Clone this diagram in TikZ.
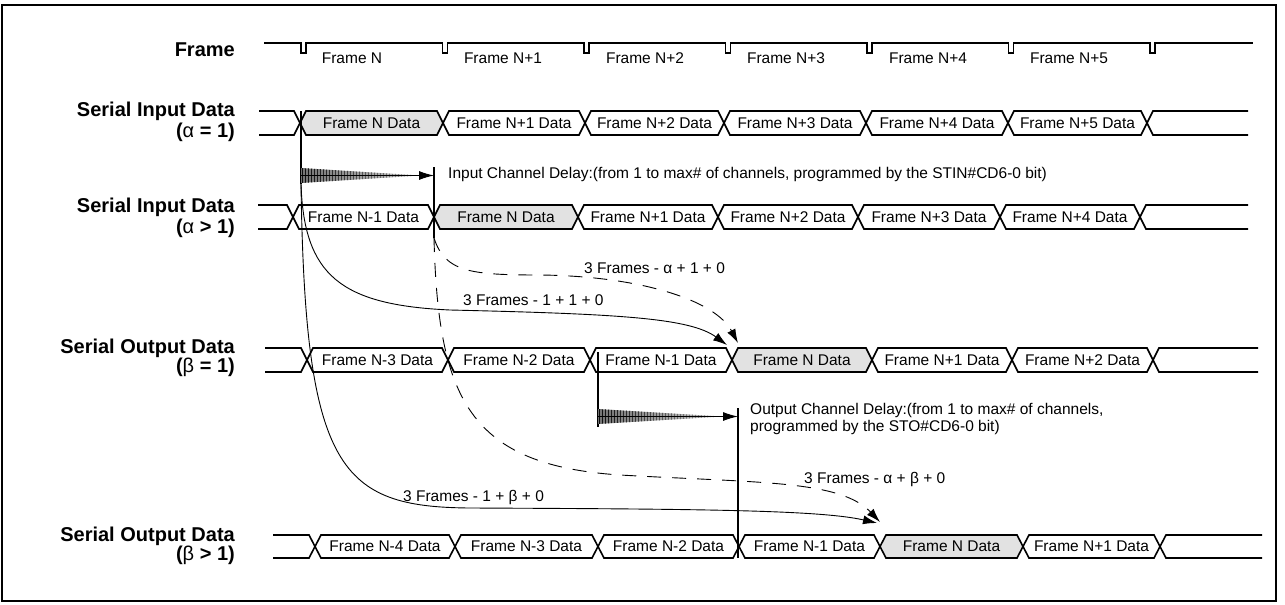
\documentclass[tikz,border=0pt]{standalone}
\usepackage{fontspec}
\setmainfont{Liberation Sans}
\usetikzlibrary{arrows.meta}
\definecolor{segfill}{RGB}{226,226,226}
\newcommand\hexseg[7]{%
  \pgfmathsetmacro\hsmid{(#3+#4)/2}%
  \filldraw[bus, fill=#5] (#1,\hsmid) -- (#1+6,#3) -- (#2-6,#3) -- (#2,\hsmid) -- (#2-6,#4) -- (#1+6,#4) -- cycle;
  \node[lbl] (#6) at ({(#1+#2)/2},\hsmid) {#7};
}
\newcommand\busends[6]{% start, first cross, last cross, end, top, bottom
  \pgfmathsetmacro\hsmid{(#5+#6)/2}%
  \draw[bus] (#1,#5) -- (#2-6,#5) -- (#2,\hsmid) -- (#2-6,#6) -- (#1,#6);
  \draw[bus] (#4,#5) -- (#3+6,#5) -- (#3,\hsmid) -- (#3+6,#6) -- (#4,#6);
}
\newcommand\hatchtri[3]{% x, top y, tip x
  \begin{scope}
    \clip (#1,#2) -- (#1,#2+15) -- (#3,#2+7.5) -- cycle;
    \shade[left color=black!55, right color=black!20] (#1-1,#2-2) rectangle (#3+1,#2+17);
    \foreach \i in {0,...,40} {
      \pgfmathsetmacro\hsdark{95-\i*1.4}
      \draw[line width=0.9pt, black!\hsdark] ({#1+1+\i*3},#2-5) -- ++(0,25);
    }
  \end{scope}
}
\begin{document}
\begin{tikzpicture}[x=1pt,y=-1pt,
  bus/.style={line width=1.6pt, line join=miter},
  lbl/.style={font=\fontsize{15.5}{17}\selectfont, inner sep=0pt},
  rowlbl/.style={font=\bfseries\fontsize{20}{23}\selectfont, anchor=east, inner sep=0pt},
  vline/.style={line width=1.6pt},
  curve/.style={line width=0.9pt, -{Latex[length=14pt,width=9pt]}},
  dcurve/.style={curve, dash pattern=on 14pt off 11pt},
  delay/.style={line width=1pt, -{Latex[length=15pt,width=9pt]}},
]
\useasboundingbox (0,0) rectangle (1285,605);
\draw[line width=2pt] (1.5,5) rectangle (1276,600.5);

% row labels
\node[rowlbl] (lframe) at (235,50) {Frame};
\node[rowlbl] (lin1) at (235,111) {Serial Input Data};
\node[rowlbl] (lin1b) at (235,132) {(\textmd{α} = 1)};
\node[rowlbl] (lin2) at (235,207) {Serial Input Data};
\node[rowlbl] (lin2b) at (235,228) {(\textmd{α} > 1)};
\node[rowlbl] (lout1) at (235,348) {Serial Output Data};
\node[rowlbl] (lout1b) at (235,367) {(\textmd{β} = 1)};
\node[rowlbl] (lout2) at (235,536) {Serial Output Data};
\node[rowlbl] (lout2b) at (235,555) {(\textmd{β} > 1)};

% frame waveform
\draw[bus] (264,43) \foreach \p in {301,442.5,584,725.5,867,1008.5,1150} { -- (\p,43) -- (\p,53) -- (\p+5,53) -- (\p+5,43) } -- (1253,43);
\node[lbl] (f0) at (352,58) {Frame N};
\node[lbl] (f1) at (503,58) {Frame N+1};
\node[lbl] (f2) at (645,58) {Frame N+2};
\node[lbl] (f3) at (786,58) {Frame N+3};
\node[lbl] (f4) at (928,58) {Frame N+4};
\node[lbl] (f5) at (1069,58) {Frame N+5};

% row 1
\busends{259}{300}{1147}{1248}{111}{135}
\hexseg{300}{443}{111}{135}{segfill}{a0}{Frame N Data}
\hexseg{443}{585}{111}{135}{white}{a1}{Frame N+1 Data}
\hexseg{585}{724}{111}{135}{white}{a2}{Frame N+2 Data}
\hexseg{724}{866}{111}{135}{white}{a3}{Frame N+3 Data}
\hexseg{866}{1008}{111}{135}{white}{a4}{Frame N+4 Data}
\hexseg{1008}{1147}{111}{135}{white}{a5}{Frame N+5 Data}

% row 2
\busends{258}{293}{1140}{1248}{205}{229}
\hexseg{293}{434}{205}{229}{white}{b0}{Frame N-1 Data}
\hexseg{434}{578}{205}{229}{segfill}{b1}{Frame N Data}
\hexseg{578}{718}{205}{229}{white}{b2}{Frame N+1 Data}
\hexseg{718}{858}{205}{229}{white}{b3}{Frame N+2 Data}
\hexseg{858}{1000}{205}{229}{white}{b4}{Frame N+3 Data}
\hexseg{1000}{1140}{205}{229}{white}{b5}{Frame N+4 Data}

% row 3
\busends{265}{307}{1153}{1258}{348}{372}
\hexseg{307}{448}{348}{372}{white}{c0}{Frame N-3 Data}
\hexseg{448}{590}{348}{372}{white}{c1}{Frame N-2 Data}
\hexseg{590}{732}{348}{372}{white}{c2}{Frame N-1 Data}
\hexseg{732}{872}{348}{372}{segfill}{c3}{Frame N Data}
\hexseg{872}{1012}{348}{372}{white}{c4}{Frame N+1 Data}
\hexseg{1012}{1153}{348}{372}{white}{c5}{Frame N+2 Data}

% row 4
\busends{273}{315}{1160}{1262}{535}{558}
\hexseg{315}{455}{535}{558}{white}{d0}{Frame N-4 Data}
\hexseg{455}{598}{535}{558}{white}{d1}{Frame N-3 Data}
\hexseg{598}{739}{535}{558}{white}{d2}{Frame N-2 Data}
\hexseg{739}{880}{535}{558}{white}{d3}{Frame N-1 Data}
\hexseg{880}{1023}{535}{558}{segfill}{d4}{Frame N Data}
\hexseg{1023}{1160}{535}{558}{white}{d5}{Frame N+1 Data}

% input channel delay
\coordinate (inS) at (301,111);
\coordinate (inB) at (301,184);
\coordinate (inM) at (301,175.5);
\coordinate (icdT) at (434,167);
\coordinate (icdA) at (434,175.5);
\coordinate (icdB) at (434,238);
\draw[vline] (inS) -- (inB);
\draw[vline] (icdT) -- (icdB);
\hatchtri{301}{168}{420}
\draw[delay] (inM) -- (icdA);
\node[lbl, anchor=west] (icd) at (448,174) {Input Channel Delay:(from 1 to max\# of channels, programmed by the STIN\#CD6-0 bit)};

% output channel delay
\coordinate (ocdS) at (598,352);
\coordinate (ocdB) at (598,427);
\coordinate (ocdM) at (598,416.5);
\coordinate (ocdT) at (738,408);
\coordinate (ocdA) at (738,416.5);
\coordinate (ocdE) at (738,558);
\draw[vline] (ocdS) -- (ocdB);
\draw[vline] (ocdT) -- (ocdE);
\hatchtri{598}{409}{722}
\draw[delay] (ocdM) -- (ocdA);
\node[lbl, anchor=west, align=left] (ocd) at (750,418.5) {Output Channel Delay:(from 1 to max\# of channels,\\programmed by the STO\#CD6-0 bit)};

% frame delay connectors
\coordinate (t1) at (727,345);
\coordinate (t2) at (738,343);
\coordinate (t3) at (880,522);
\coordinate (t4) at (877,523);
\draw[curve] (inB) .. controls (304,275) and (340,305) .. (450,310) .. controls (620,314) and (690,318) .. (t1);
\draw[dcurve] (icdB) .. controls (445,272) and (470,275) .. (540,275) .. controls (640,276) and (715,300) .. (t2);
\draw[dcurve] (icdB) .. controls (438,400) and (470,465) .. (620,475) .. controls (760,483) and (840,480) .. (t3);
\draw[curve] (inB) .. controls (305,470) and (340,507) .. (470,508) .. controls (700,509) and (820,510) .. (t4);

\node[lbl, anchor=west] (l1) at (463,300) {3 Frames - 1 + 1 + 0};
\node[lbl, anchor=west] (l2) at (584,268) {3 Frames - α + 1 + 0};
\node[lbl, anchor=west] (l3) at (804,479) {3 Frames - α + β + 0};
\node[lbl, anchor=west] (l4) at (403,497) {3 Frames - 1 + β + 0};
\end{tikzpicture}
\end{document}
